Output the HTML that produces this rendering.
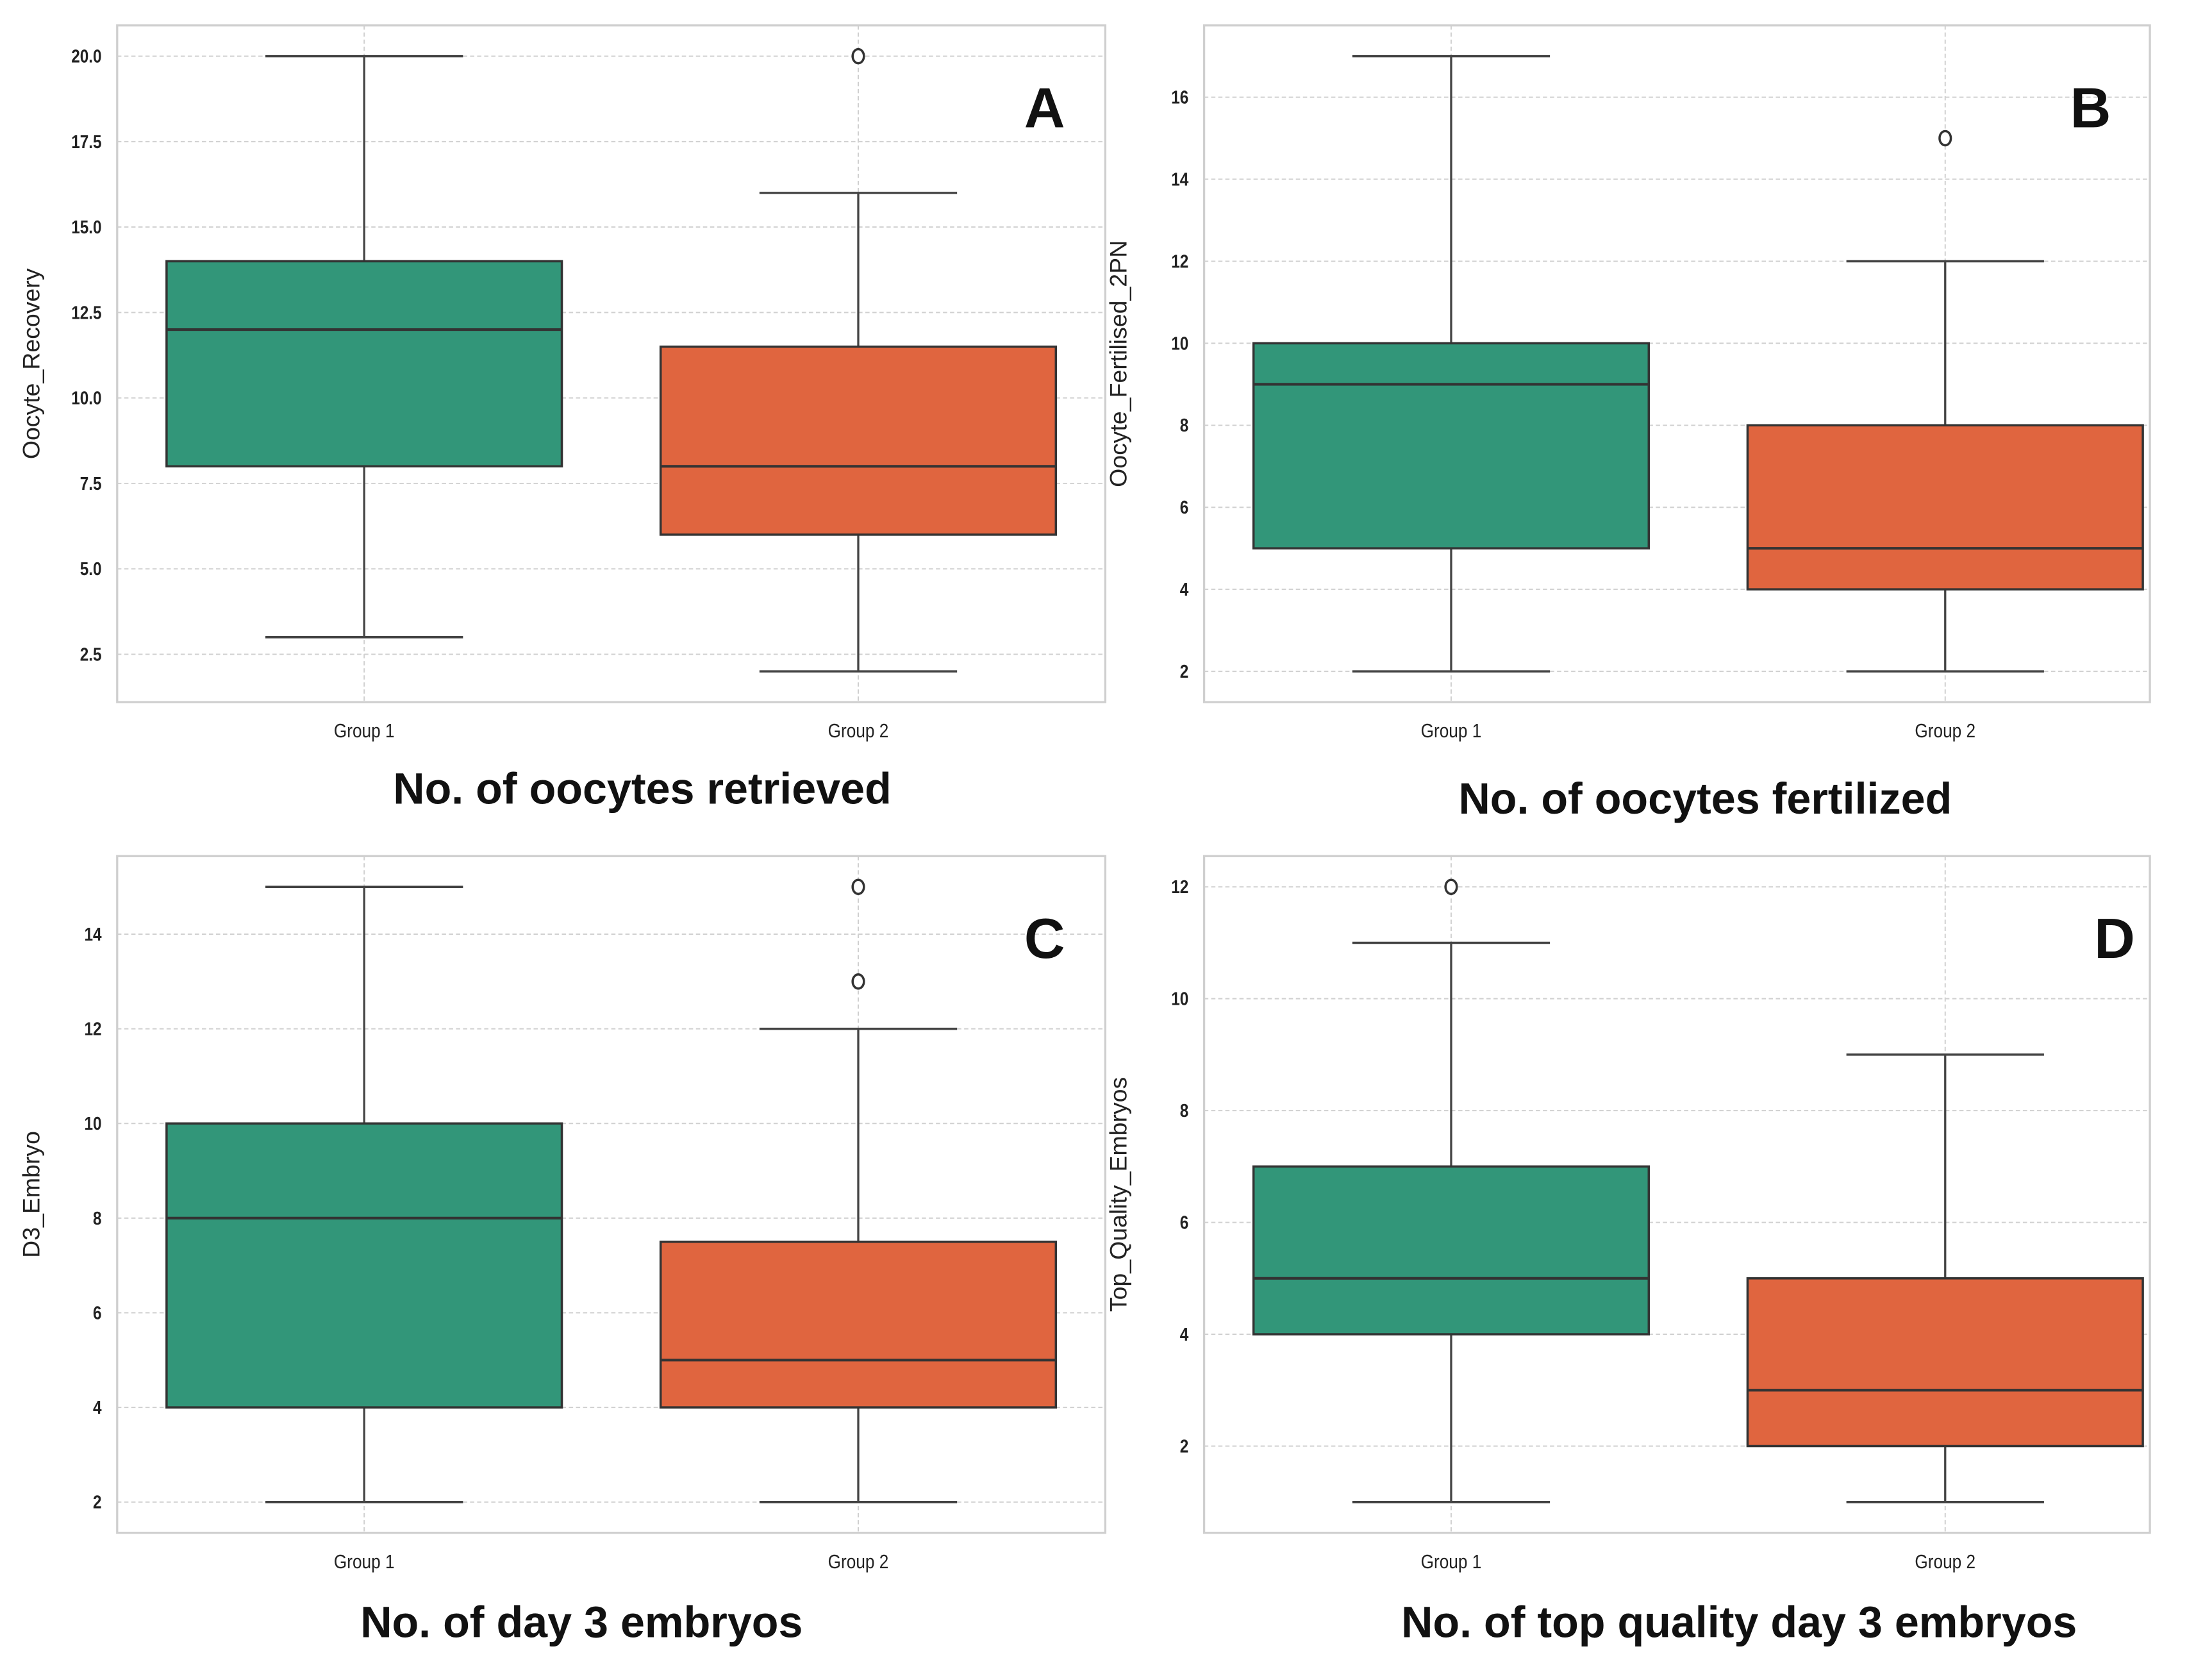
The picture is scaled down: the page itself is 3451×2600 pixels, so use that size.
<!DOCTYPE html>
<html><head><meta charset="utf-8"><style>
html,body{margin:0;padding:0;background:#fff;}
svg{display:block;}
text{font-family:"Liberation Sans",sans-serif;}
</style></head><body>
<svg id="fig" width="3451" height="2600" viewBox="0 0 1567 1180" preserveAspectRatio="none" xmlns="http://www.w3.org/2000/svg"></svg>
<script>
const groups = ["Group 1","Group 2"];
// A
const aStats = [[3,8,12,14,20],[2,6,8,11.5,16]];
const aOut = [[],[20]];
const aTicks = [2.5,5,7.5,10,12.5,15,17.5,20];
// B
const bStats = [[2,5,9,10,17],[2,4,5,8,12]];
const bOut = [[],[15]];
const bTicks = [2,4,6,8,10,12,14,16];
// C
const cStats = [[2,4,8,10,15],[2,4,5,7.5,12]];
const cOut = [[],[13,15]];
const cTicks = [2,4,6,8,10,12,14];
// D
const dStats = [[1,4,5,7,11],[1,2,3,5,9]];
const dOut = [[12],[]];
const dTicks = [2,4,6,8,10,12];

const panels = [
 {id:"a",x0:83,x1:783,y0:18,y1:497,stats:aStats,out:aOut,ticks:aTicks,dec:1,ylab:"Oocyte_Recovery",title:"No. of oocytes retrieved",tx:455,ty:569,letter:"A",lx:740},
 {id:"b",x0:853,x1:1523,y0:18,y1:497,stats:bStats,out:bOut,ticks:bTicks,dec:0,ylab:"Oocyte_Fertilised_2PN",title:"No. of oocytes fertilized",tx:1208,ty:576,letter:"B",lx:1481},
 {id:"c",x0:83,x1:783,y0:606,y1:1085,stats:cStats,out:cOut,ticks:cTicks,dec:0,ylab:"D3_Embryo",title:"No. of day 3 embryos",tx:412,ty:1159,letter:"C",lx:740},
 {id:"d",x0:853,x1:1523,y0:606,y1:1085,stats:dStats,out:dOut,ticks:dTicks,dec:0,ylab:"Top_Quality_Embryos",title:"No. of top quality day 3 embryos",tx:1232,ty:1159,letter:"D",lx:1498}
];
const colors=["#329679","#e0653f"];
const NS="http://www.w3.org/2000/svg";
const svg=document.getElementById("fig");
function mk(tag,attrs,parent){const e=document.createElementNS(NS,tag);for(const k in attrs)e.setAttribute(k,attrs[k]);(parent||svg).appendChild(e);return e;}
panels.forEach(p=>{
  const g=mk("g",{});
  
  
  let lo=Infinity,hi=-Infinity;
  p.stats.forEach((s,i)=>{lo=Math.min(lo,s[0],...p.out[i]);hi=Math.max(hi,s[4],...p.out[i]);});
  const m=(hi-lo)*0.05, ymin=lo-m, ymax=hi+m;
  const Y=v=>p.y1-(v-ymin)/(ymax-ymin)*(p.y1-p.y0);
  const step=350;
  const X=i=>p.x0+step*(i+0.5);
  p.ticks.forEach(t=>{
    const l=mk("line",{x1:p.x0,x2:p.x1,y1:Y(t),y2:Y(t),stroke:"#d0d0d0","stroke-width":0.9,"stroke-dasharray":"3,2"},g);
    
    
    const tx=mk("text",{x:p.x0-11,y:Y(t)+4.5,"text-anchor":"end","font-size":13,fill:"#222","font-weight":"bold",transform:`translate(${(p.x0-11)*(1-0.85)},0) scale(0.85,1)`},g);
    tx.textContent=t.toFixed(p.dec);
    
    
  });
  groups.forEach((gr,i)=>{
    const l=mk("line",{x1:X(i),x2:X(i),y1:p.y0,y2:p.y1,stroke:"#d0d0d0","stroke-width":0.9,"stroke-dasharray":"3,2"},g);
    
    
    const t=mk("text",{x:X(i),y:p.y1+25,"text-anchor":"middle","font-size":14,fill:"#222",transform:`translate(${X(i)*(1-0.85)},0) scale(0.85,1)`},g);
    t.textContent=gr;
    
    
  });
  const fr=mk("rect",{x:p.x0,y:p.y0,width:p.x1-p.x0,height:p.y1-p.y0,fill:"none",stroke:"#cfcfcf","stroke-width":1.5},g);
  
  
  p.stats.forEach((s,i)=>{
    const cx=X(i), bw=step*0.8, cw=step*0.4;
    const w=mk("line",{x1:cx,x2:cx,y1:Y(s[0]),y2:Y(s[4]),stroke:"#444","stroke-width":1.5},g);
    
    
    [s[0],s[4]].forEach(v=>{
      const c=mk("line",{x1:cx-cw/2,x2:cx+cw/2,y1:Y(v),y2:Y(v),stroke:"#444","stroke-width":1.6},g);
      
      
    });
    const b=mk("rect",{x:cx-bw/2,y:Y(s[3]),width:bw,height:Y(s[1])-Y(s[3]),fill:colors[i],stroke:"#333","stroke-width":1.6},g);
    
    
    const md=mk("line",{x1:cx-bw/2,x2:cx+bw/2,y1:Y(s[2]),y2:Y(s[2]),stroke:"#333","stroke-width":1.9},g);
    
    
    p.out[i].forEach(v=>{
      const o=mk("ellipse",{cx:cx,cy:Y(v),rx:4,ry:5,fill:"#fff",stroke:"#333","stroke-width":1.6},g);
      
      
    });
  });
  const yl=mk("text",{x:0,y:0,"text-anchor":"middle","font-size":17,fill:"#222",transform:`translate(${p.x0-55},${(p.y0+p.y1)/2}) rotate(-90)`},g);
  yl.textContent=p.ylab;
  
  
  const tt=mk("text",{x:p.tx,y:p.ty,"text-anchor":"middle","font-size":31,"font-weight":"bold",fill:"#111"},g);
  tt.textContent=p.title;
  
  
  const lt=mk("text",{x:p.lx,y:p.y0+72,"text-anchor":"middle","font-size":40,"font-weight":"bold",fill:"#111"},g);
  lt.textContent=p.letter;
  
  
});
</script>
</body></html>
